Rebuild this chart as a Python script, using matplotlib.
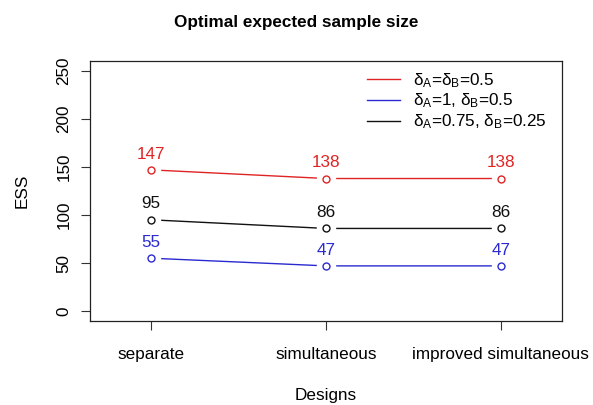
import matplotlib
matplotlib.use("Agg")
import matplotlib.pyplot as plt

plt.rcParams['font.family'] = ['Liberation Sans', 'DejaVu Sans']
plt.rcParams['mathtext.fontset'] = 'custom'
plt.rcParams['mathtext.rm'] = 'Liberation Sans'
plt.rcParams['mathtext.it'] = 'Liberation Sans'

# data
designs = ["separate", "simultaneous", "improved simultaneous"]
ess_equal = [147, 138, 138]        # dA = dB = 0.5
ess_a1 = [55, 47, 47]              # dA = 1, dB = 0.5
ess_a075 = [95, 86, 86]            # dA = 0.75, dB = 0.25
series_labels = [r"$\mathregular{δ_A}$=$\mathregular{δ_B}$=0.5",
                 r"$\mathregular{δ_A}$=1, $\mathregular{δ_B}$=0.5",
                 r"$\mathregular{δ_A}$=0.75, $\mathregular{δ_B}$=0.25"]
y_ticks = [0, 50, 100, 150, 200, 250]

red = "#e02424"
blue = "#2a2ad0"
black = "#111111"

fig = plt.figure(figsize=(5.93, 4.05), dpi=100)
ax = fig.add_axes([90/593, 1-321/405, (562-90)/593, (321-61)/405])

x = [1, 2, 3]
fs = 12.3
handles = []
for vals, col in [(ess_equal, red), (ess_a1, blue), (ess_a075, black)]:
    h, = ax.plot(x, vals, color=col, lw=1, zorder=1)
    handles.append(h)
    # white disks to give the R type="b" gaps
    ax.plot(x, vals, ls="none", marker="o", ms=14, mfc="white", mec="none", zorder=2)
    ax.plot(x, vals, ls="none", marker="o", ms=5, mfc="white", mec=col, mew=1, zorder=3)
    for xi, v in zip(x, vals):
        ax.annotate(str(v), (xi, v), xytext=(0, 6), textcoords="offset points",
                    ha="center", va="bottom", color=col, fontsize=fs)

ax.set_xlim(0.65, 3.35)
ax.set_ylim(-10.4, 260.4)
ax.set_xticks(x)
ax.set_xticklabels(designs, fontsize=fs)
ax.set_yticks(y_ticks)
ax.set_yticklabels([str(t) for t in y_ticks], fontsize=fs, rotation=90, va="center")
ax.tick_params(direction="out", length=6.5, width=0.8, color="#333333")
ax.tick_params(axis="x", pad=12)
ax.tick_params(axis="y", pad=7)
for s in ax.spines.values():
    s.set_linewidth(0.9)
    s.set_color("#222222")

ax.set_xlabel("Designs", fontsize=fs, labelpad=19)
ax.set_ylabel("ESS", fontsize=fs, labelpad=19)
fig.text(0.5, 1-22/405, "Optimal expected sample size", ha="center", va="center",
         fontsize=fs, fontweight="bold")

leg = ax.legend(handles, series_labels, loc="upper left", frameon=False,
                bbox_to_anchor=(367/593, 1-71/405), bbox_transform=fig.transFigure,
                fontsize=fs, handlelength=1.95, handletextpad=0.75,
                labelspacing=0.12, borderpad=0, borderaxespad=0)

fig.savefig("out.png", dpi=100)
